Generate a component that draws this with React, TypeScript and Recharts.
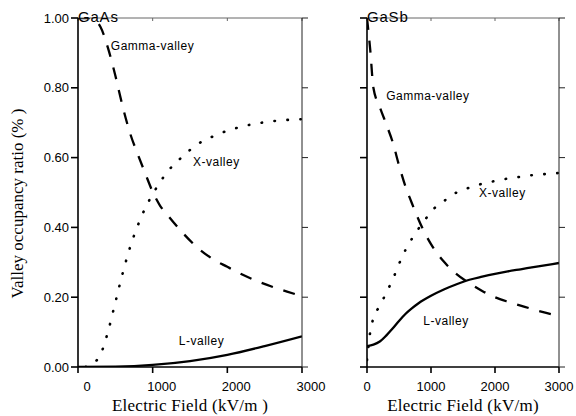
import React from "react";
import { LineChart, Line, XAxis, YAxis, ReferenceDot } from "recharts";

const fieldTicks = [0, 1000, 2000, 3000];
const ratioTicks = [0, 0.2, 0.4, 0.6, 0.8, 1.0];

// GaAs
const gaasGammaField = [0, 150, 250, 300, 400, 500, 600, 700, 800, 900, 1000, 1100, 1200, 1400, 1600, 1800, 2000, 2200, 2400, 2600, 2800, 3000];
const gaasGammaRatio = [1.0, 1.0, 0.99, 0.975, 0.915, 0.835, 0.745, 0.668, 0.61, 0.555, 0.502, 0.462, 0.435, 0.385, 0.342, 0.31, 0.287, 0.265, 0.246, 0.23, 0.216, 0.203];
const gaasXField = [100, 200, 300, 400, 500, 600, 700, 800, 900, 1000, 1100, 1200, 1400, 1600, 1800, 2000, 2200, 2400, 2600, 2800, 3000];
const gaasXRatio = [0, 0.01, 0.035, 0.1, 0.185, 0.27, 0.345, 0.405, 0.455, 0.495, 0.53, 0.56, 0.603, 0.638, 0.66, 0.677, 0.689, 0.698, 0.704, 0.708, 0.71];
const gaasLField = [0, 500, 1000, 1500, 2000, 2500, 3000];
const gaasLRatio = [0, 0.001, 0.006, 0.017, 0.035, 0.06, 0.088];

// GaSb
const gasbGammaField = [0, 50, 100, 200, 300, 400, 500, 600, 700, 800, 900, 1000, 1200, 1400, 1600, 1800, 2000, 2200, 2400, 2600, 2800, 3000];
const gasbGammaRatio = [1.0, 0.91, 0.8, 0.745, 0.696, 0.645, 0.578, 0.518, 0.47, 0.425, 0.385, 0.352, 0.302, 0.266, 0.24, 0.218, 0.2, 0.187, 0.176, 0.165, 0.155, 0.146];
const gasbXField = [0, 50, 100, 200, 300, 400, 500, 600, 700, 800, 900, 1000, 1200, 1400, 1600, 1800, 2000, 2200, 2400, 2600, 2800, 3000];
const gasbXRatio = [0.02, 0.1, 0.14, 0.175, 0.212, 0.25, 0.295, 0.335, 0.367, 0.395, 0.42, 0.445, 0.475, 0.5, 0.514, 0.525, 0.533, 0.54, 0.545, 0.55, 0.553, 0.556];
const gasbLField = [0, 100, 200, 300, 400, 500, 600, 700, 800, 1000, 1200, 1400, 1600, 1800, 2000, 2200, 2400, 2600, 2800, 3000];
const gasbLRatio = [0.06, 0.064, 0.073, 0.09, 0.11, 0.132, 0.152, 0.168, 0.182, 0.204, 0.222, 0.237, 0.25, 0.259, 0.267, 0.274, 0.28, 0.286, 0.292, 0.298];

// where the curve names sit, in data units (field, ratio)
const gaasNotes = [
  { name: "Gamma-valley", field: 440, ratio: 0.92 },
  { name: "X-valley", field: 1540, ratio: 0.587 },
  { name: "L-valley", field: 1350, ratio: 0.074 },
];
const gasbNotes = [
  { name: "Gamma-valley", field: 300, ratio: 0.776 },
  { name: "X-valley", field: 1750, ratio: 0.5 },
  { name: "L-valley", field: 880, ratio: 0.133 },
];

const toPoints = (field: number[], ratio: number[]) =>
  field.map((f, i) => ({ field: f, ratio: ratio[i] }));

const SANS = "'Liberation Sans', Arial, sans-serif";
const SERIF = "'Liberation Serif', 'Times New Roman', serif";

interface Note {
  name: string;
  field: number;
  ratio: number;
}

interface PanelProps {
  left: number;
  width: number;
  yAxisWidth: number;
  marginRight: number;
  showYLabels: boolean;
  title: string;
  xTitle: string;
  xTickDx: number;
  gamma: { field: number; ratio: number }[];
  xValley: { field: number; ratio: number }[];
  lValley: { field: number; ratio: number }[];
  notes: Note[];
}

function Panel(p: PanelProps) {
  const tickFont = { fill: "#000", fontSize: 13, fontFamily: SANS };
  return (
    <div style={{ position: "absolute", left: p.left, top: 0 }}>
      <LineChart
        width={p.width}
        height={416}
        margin={{ top: 18, right: p.marginRight, bottom: 0, left: 0 }}
      >
        <XAxis
          xAxisId="bottom"
          dataKey="field"
          type="number"
          domain={[0, 3000]}
          allowDataOverflow
          ticks={fieldTicks}
          height={49}
          stroke="#000"
          strokeWidth={1.6}
          tickSize={6}
          tickMargin={9}
          tick={{ ...tickFont, dx: p.xTickDx }}
          label={{
            content: (props: any) => {
              const vb = props.viewBox ?? { x: 0, y: 367, width: 200, height: 49 };
              return (
                <text
                  x={vb.x + vb.width / 2}
                  y={vb.y + 44}
                  textAnchor="middle"
                  fontFamily={SERIF}
                  fontSize={17}
                  letterSpacing={0.25}
                  fill="#000"
                >
                  {p.xTitle}
                </text>
              );
            },
          }}
        />
        <XAxis
          xAxisId="top"
          orientation="top"
          dataKey="field"
          type="number"
          domain={[0, 3000]}
          allowDataOverflow
          ticks={fieldTicks}
          height={10}
          mirror
          stroke="#666"
          tickSize={3}
          tickFormatter={() => ""}
          label={{
            content: (props: any) => {
              const vb = props.viewBox ?? { x: 0, y: 18, width: 200, height: 10 };
              return (
                <text
                  x={vb.x}
                  y={vb.y + 4}
                  fontFamily={SANS}
                  fontSize={15}
                  letterSpacing={0.8}
                  fill="#000"
                >
                  {p.title}
                </text>
              );
            },
          }}
        />
        <YAxis
          yAxisId="left"
          type="number"
          domain={[0, 1]}
          allowDataOverflow
          ticks={ratioTicks}
          width={p.yAxisWidth}
          stroke="#000"
          strokeWidth={1.6}
          tickSize={7}
          tickMargin={2}
          tick={tickFont}
          tickFormatter={(v: number) => (p.showYLabels ? v.toFixed(2) : "")}
          label={
            p.showYLabels
              ? {
                  content: (props: any) => {
                    const vb = props.viewBox ?? { x: 0, y: 28, width: 78, height: 339 };
                    const cx = vb.x + 17;
                    const cy = vb.y + vb.height / 2 + 11;
                    return (
                      <text
                        x={cx}
                        y={cy}
                        transform={`rotate(-90, ${cx}, ${cy})`}
                        textAnchor="middle"
                        dominantBaseline="central"
                        fontFamily={SERIF}
                        fontSize={17}
                        fill="#000"
                      >
                        Valley occupancy ratio (% )
                      </text>
                    );
                  },
                }
              : undefined
          }
        />
        <YAxis
          yAxisId="right"
          orientation="right"
          type="number"
          domain={[0, 1]}
          allowDataOverflow
          ticks={ratioTicks}
          width={10}
          stroke="#222"
          tickSize={6}
          tickFormatter={() => ""}
        />
        <Line
          xAxisId="bottom"
          yAxisId="left"
          data={p.gamma}
          dataKey="ratio"
          type="monotone"
          stroke="#000"
          strokeWidth={2.3}
          strokeDasharray="12 11"
          dot={false}
          activeDot={false}
          isAnimationActive={false}
        />
        <Line
          xAxisId="bottom"
          yAxisId="left"
          data={p.xValley}
          dataKey="ratio"
          type="monotone"
          stroke="#000"
          strokeWidth={2.6}
          strokeDasharray="0.5 12.5"
          strokeLinecap="round"
          dot={false}
          activeDot={false}
          isAnimationActive={false}
        />
        <Line
          xAxisId="bottom"
          yAxisId="left"
          data={p.lValley}
          dataKey="ratio"
          type="monotone"
          stroke="#000"
          strokeWidth={2.3}
          dot={false}
          activeDot={false}
          isAnimationActive={false}
        />
        {p.notes.map((n) => (
          <ReferenceDot
            key={n.name}
            xAxisId="bottom"
            yAxisId="left"
            x={n.field}
            y={n.ratio}
            r={0}
            stroke="none"
            fill="none"
            label={{
              value: n.name,
              position: "right",
              offset: 0,
              fill: "#000",
              fontSize: 12,
              fontFamily: SANS,
              letterSpacing: 0.5,
            }}
          />
        ))}
      </LineChart>
    </div>
  );
}

export default function App() {
  return (
    <div
      style={{
        position: "absolute",
        left: 0,
        top: 0,
        width: 576,
        height: 416,
        background: "#fff",
      }}
    >
      <style>{`.recharts-surface { overflow: visible; }`}</style>
      <Panel
        left={0}
        width={320}
        yAxisWidth={78}
        marginRight={8}
        showYLabels
        title="GaAs"
        xTitle="Electric Field (kV/m )"
        xTickDx={9}
        gamma={toPoints(gaasGammaField, gaasGammaRatio)}
        xValley={toPoints(gaasXField, gaasXRatio)}
        lValley={toPoints(gaasLField, gaasLRatio)}
        notes={gaasNotes}
      />
      <Panel
        left={340}
        width={236}
        yAxisWidth={27}
        marginRight={7}
        showYLabels={false}
        title="GaSb"
        xTitle="Electric Field (kV/m)"
        xTickDx={0}
        gamma={toPoints(gasbGammaField, gasbGammaRatio)}
        xValley={toPoints(gasbXField, gasbXRatio)}
        lValley={toPoints(gasbLField, gasbLRatio)}
        notes={gasbNotes}
      />
    </div>
  );
}
